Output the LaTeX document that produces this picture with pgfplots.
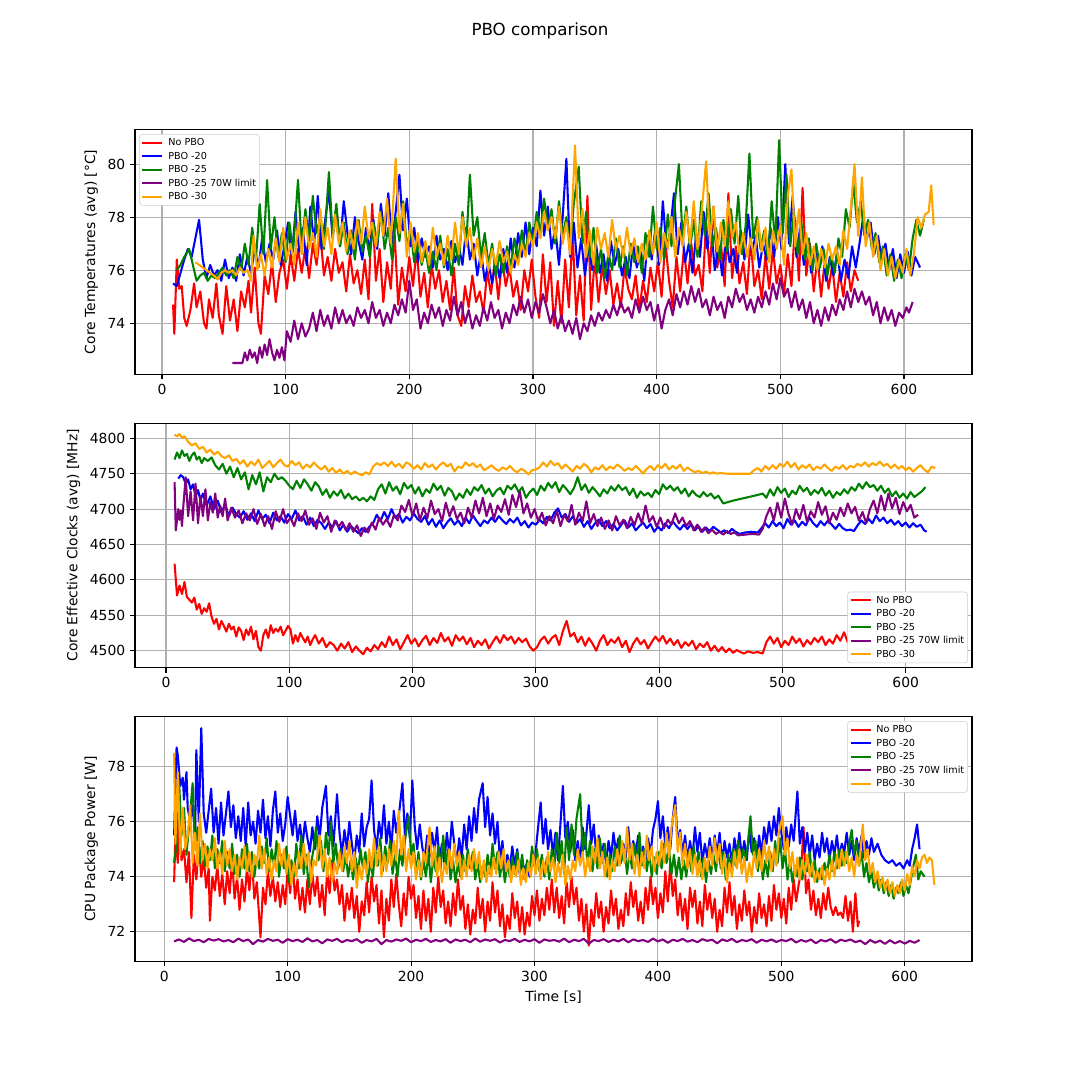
\documentclass[border=0pt]{standalone}
\usepackage{fontspec}
\setmainfont{DejaVu Sans}
\usepackage{pgfplots}
\pgfplotsset{compat=1.18}
\definecolor{mplorange}{rgb}{1,0.647,0}
\definecolor{mplgreen}{rgb}{0,0.5,0}
\definecolor{mplpurple}{rgb}{0.5,0,0.5}
\pgfplotsset{
  panel/.style={
    scale only axis, width=602.64pt, height=176.1pt,
    anchor=south west,
    axis line style={line width=0.8pt},
    tick pos=left, tick align=outside,
    major tick length=3.5pt,
    every tick/.style={black, line width=0.8pt},
    grid=major,
    major grid style={line width=0.8pt, color=black!31},
    xtick={0,100,...,600},
    /pgf/number format/assume math mode=true,
    /pgf/number format/1000 sep={},
    tick label style={font=\fontsize{10}{12}\selectfont},
    label style={font=\fontsize{10}{12}\selectfont},
    every axis plot/.append style={line width=1.5pt, line join=round, no markers},
    legend cell align=left,
    legend image code/.code={\draw[##1] (0pt,0pt) -- (14.4pt,0pt);},
    legend style={font=\fontsize{6.94}{8}\selectfont, draw=black!20, rounded corners=2pt,
      fill=white, inner xsep=1.4pt, inner ysep=1.2pt,
      nodes={inner xsep=1pt, inner ysep=1.36pt, text height=5.4pt, text depth=1.6pt, anchor=west},
      /tikz/every odd column/.append style={column sep=2.5pt}},
  }
}
\begin{document}
\begin{tikzpicture}
\path[use as bounding box] (0,0) rectangle (777.6pt,777.6pt);
\node[anchor=north, inner sep=0pt, font=\fontsize{12}{14}\selectfont] at (388.8pt,761pt) {PBO comparison};

% ---------------- Panel 1 ----------------
\begin{axis}[panel, at={(97.2pt,508.18pt)},
  xmin=-21.8, xmax=655, ymin=72.08, ymax=81.3, ytick={74,76,78,80},
  ylabel={Core Temperatures (avg) [°C]},
  legend style={at={(0,1)}, anchor=north west, xshift=3.0pt, yshift=-3.3pt}]
\addplot[red] coordinates {(9,74.7)(10,73.6)(12,76.4)(14,75.3)(16,75.4)(18,74.2)(20,73.9)(23,74.5)(26,75.5)(28,74.6)(31,75.2)(34,74.0)(36,73.8)(38,74.9)(41,74.2)(44,75.5)(46,74.3)(49,73.6)(52,75.4)(55,74.1)(58,74.9)(61,73.7)(64,75.2)(67,74.6)(70,75.6)(72,74.4)(75,76.1)(78,74.0)(80,73.6)(83,75.8)(86,75.1)(89,76.3)(92,74.8)(95,75.9)(98,76.4)(101,75.3)(104,76.6)(107,75.6)(110,76.8)(113,75.9)(116,76.9)(119,75.7)(122,77.0)(125,76.2)(128,77.4)(131,75.8)(134,76.5)(137,75.6)(140,76.8)(143,75.9)(146,76.3)(149,75.2)(152,76.6)(155,75.5)(158,76.0)(161,75.1)(164,76.4)(167,74.9)(170,78.5)(173,75.6)(176,76.8)(179,74.8)(182,76.3)(185,75.3)(188,77.5)(191,74.7)(194,76.1)(197,75.2)(200,76.5)(203,75.4)(206,76.8)(209,75.0)(212,75.9)(215,74.6)(218,76.2)(221,75.3)(224,76.0)(227,74.8)(230,75.6)(233,74.5)(236,76.1)(239,74.3)(242,73.9)(245,75.4)(248,74.6)(251,75.8)(254,74.8)(257,75.2)(260,74.4)(263,76.0)(266,75.1)(269,76.3)(272,74.9)(275,76.4)(278,75.4)(281,76.1)(284,75.0)(287,75.6)(290,74.5)(293,76.0)(296,75.2)(299,76.4)(302,75.0)(305,74.2)(308,76.6)(311,74.8)(314,76.3)(317,73.9)(320,75.6)(323,74.0)(326,76.4)(329,74.6)(332,77.4)(335,74.3)(338,75.8)(341,74.1)(344,78.8)(347,74.5)(350,76.5)(353,74.8)(356,76.2)(359,75.1)(362,76.0)(365,74.7)(368,75.5)(371,74.6)(374,76.1)(377,75.3)(380,74.9)(383,75.8)(386,74.5)(389,75.6)(392,74.8)(395,76.1)(398,75.2)(401,76.3)(404,75.0)(407,77.1)(410,75.6)(413,74.6)(416,76.5)(419,75.2)(422,76.8)(425,75.5)(428,77.0)(431,75.8)(434,76.2)(437,75.2)(440,77.8)(443,75.9)(446,78.4)(449,76.1)(452,77.0)(455,75.4)(458,78.9)(461,75.7)(464,76.9)(467,75.5)(470,76.3)(473,75.1)(476,77.2)(479,75.4)(482,76.0)(485,74.9)(488,76.6)(491,75.3)(494,76.8)(497,75.5)(500,76.2)(503,75.1)(506,76.6)(509,75.4)(512,77.9)(515,75.6)(518,79.1)(521,75.8)(524,77.0)(527,75.2)(530,76.5)(533,75.0)(536,76.4)(539,75.3)(542,76.2)(545,74.8)(548,75.9)(551,75.0)(554,76.3)(557,75.2)(560,76.0)(563,75.6)};
\addlegendentry{No PBO}
\addplot[blue] coordinates {(9,75.5)(12,75.4)(15,75.9)(18,76.4)(21,76.8)(24,76.5)(27,77.2)(30,77.9)(33,76.4)(36,75.7)(39,76.2)(42,75.8)(45,76.0)(48,75.6)(51,76.4)(54,75.7)(57,76.1)(60,75.6)(63,76.6)(66,75.8)(69,76.5)(72,75.9)(75,76.8)(78,76.1)(81,77.2)(84,76.3)(87,77.0)(90,76.4)(93,77.5)(96,76.2)(99,76.9)(102,77.8)(105,76.5)(108,78.2)(111,76.7)(114,77.6)(117,76.2)(120,78.4)(123,77.0)(126,78.8)(129,76.8)(132,77.9)(135,79.0)(138,77.2)(141,78.3)(144,76.9)(147,78.6)(150,77.4)(153,76.6)(156,78.0)(159,77.1)(162,76.4)(165,77.6)(168,76.7)(171,77.9)(174,76.8)(177,78.5)(180,77.3)(183,78.9)(186,77.0)(189,78.2)(192,79.6)(195,77.5)(198,78.7)(201,76.9)(204,77.6)(207,76.3)(210,77.2)(213,76.5)(216,76.9)(219,76.1)(222,77.3)(225,76.4)(228,76.8)(231,76.0)(234,77.1)(237,76.3)(240,76.9)(243,76.2)(246,77.6)(249,76.4)(252,77.0)(255,75.8)(258,76.7)(261,75.6)(264,76.3)(267,75.5)(270,76.4)(273,75.7)(276,76.8)(279,75.9)(282,77.2)(285,76.1)(288,77.4)(291,76.5)(294,77.8)(297,76.6)(300,77.6)(303,76.9)(306,79.0)(309,77.3)(312,78.4)(315,76.8)(318,77.6)(321,76.2)(324,78.0)(327,80.2)(330,76.5)(333,77.8)(336,76.1)(339,77.2)(342,75.8)(345,76.9)(348,76.0)(351,77.0)(354,75.9)(357,76.6)(360,75.6)(363,77.1)(366,76.2)(369,76.8)(372,75.8)(375,76.5)(378,75.7)(381,77.0)(384,76.1)(387,76.7)(390,75.6)(393,77.3)(396,76.4)(399,77.6)(402,76.2)(405,78.6)(408,76.8)(411,77.5)(414,78.9)(417,76.6)(420,77.8)(423,76.3)(426,77.0)(429,75.9)(432,77.4)(435,76.5)(438,78.2)(441,76.8)(444,77.7)(447,76.0)(450,76.9)(453,75.8)(456,77.2)(459,76.3)(462,76.8)(465,75.9)(468,77.5)(471,76.4)(474,78.1)(477,76.7)(480,77.3)(483,76.1)(486,77.0)(489,76.4)(492,77.6)(495,76.5)(498,78.0)(501,76.8)(504,80.0)(507,77.0)(510,78.8)(513,76.5)(516,77.6)(519,76.2)(522,77.0)(525,75.9)(528,76.8)(531,76.0)(534,76.9)(537,75.6)(540,76.5)(543,75.8)(546,76.7)(549,75.6)(552,76.4)(555,75.7)(558,76.9)(561,76.1)(564,77.0)(567,78.0)(570,77.2)(573,77.8)(576,76.6)(579,77.3)(582,76.4)(585,77.0)(588,76.0)(591,76.8)(594,75.7)(597,76.6)(600,75.9)(603,76.7)(606,75.8)(609,76.5)(613,76.1)};
\addlegendentry{PBO -20}
\addplot[mplgreen] coordinates {(12,76.0)(15,76.2)(18,76.5)(22,76.8)(25,76.2)(28,75.6)(31,75.8)(34,75.9)(37,75.6)(40,75.8)(43,75.7)(46,75.9)(49,76.1)(52,75.8)(55,76.0)(58,75.7)(61,76.5)(64,76.0)(67,77.0)(70,76.2)(73,77.6)(76,76.4)(79,78.5)(82,76.6)(85,79.4)(88,76.8)(91,78.0)(94,76.5)(97,77.4)(100,76.3)(103,77.8)(106,76.7)(110,79.4)(113,76.9)(116,78.3)(119,77.1)(122,78.8)(125,77.4)(128,78.0)(131,76.8)(135,79.7)(138,77.3)(141,78.5)(144,76.9)(147,77.8)(150,76.6)(153,77.5)(156,76.4)(159,77.9)(162,76.7)(165,77.3)(168,76.5)(171,77.8)(174,77.0)(177,78.2)(180,76.8)(183,77.6)(186,76.4)(189,78.0)(192,77.1)(195,78.6)(198,76.9)(201,77.5)(204,76.3)(207,77.1)(210,76.2)(213,76.8)(216,75.9)(219,76.7)(222,76.0)(225,77.3)(228,76.1)(231,76.8)(234,75.8)(237,77.0)(240,76.2)(243,78.2)(246,76.9)(249,79.6)(252,77.3)(255,78.0)(258,76.5)(261,77.4)(264,76.2)(267,77.0)(270,75.8)(273,76.6)(276,75.9)(279,76.9)(282,76.1)(285,77.2)(288,76.4)(291,77.5)(294,76.6)(297,77.8)(300,77.0)(303,78.2)(306,77.4)(309,78.7)(312,77.6)(315,78.3)(318,77.0)(321,78.6)(324,77.3)(327,78.0)(330,76.8)(333,78.5)(337,79.9)(340,77.0)(343,78.2)(346,76.5)(349,77.6)(352,75.9)(355,76.8)(358,75.7)(361,76.6)(364,76.0)(367,77.2)(370,76.1)(373,76.9)(376,75.8)(379,77.0)(382,76.3)(385,76.9)(388,75.9)(391,77.4)(394,76.5)(397,78.4)(400,76.8)(403,77.6)(406,76.4)(409,78.1)(412,76.9)(415,78.7)(418,80.0)(421,77.2)(424,78.4)(427,76.8)(430,77.9)(433,76.5)(436,78.6)(439,77.3)(442,78.9)(445,76.9)(448,77.6)(451,76.4)(454,77.9)(457,76.7)(460,78.3)(463,77.0)(466,78.8)(469,76.6)(472,77.7)(475,80.4)(478,77.2)(481,78.0)(484,76.8)(487,77.5)(490,76.4)(493,78.6)(496,77.0)(499,80.9)(502,77.4)(505,79.6)(508,76.9)(511,78.2)(514,76.6)(517,77.8)(520,76.4)(523,77.2)(526,76.0)(529,77.0)(532,76.1)(535,76.8)(538,75.8)(541,76.6)(544,75.9)(547,77.2)(550,76.5)(553,78.3)(556,77.6)(559,79.3)(562,77.8)(565,78.6)(568,77.3)(571,77.9)(574,76.8)(577,77.4)(580,76.3)(583,76.9)(586,75.8)(589,76.6)(592,75.6)(595,76.4)(598,75.7)(601,76.6)(604,76.0)(607,77.2)(610,77.9)(613,77.3)(616,77.9)};
\addlegendentry{PBO -25}
\addplot[mplpurple] coordinates {(57,72.5)(60,72.5)(63,72.5)(65,72.5)(67,72.9)(69,72.6)(71,73.0)(73,72.7)(75,72.9)(77,72.5)(79,73.1)(81,72.7)(83,73.2)(85,72.8)(87,73.4)(89,72.9)(91,72.6)(93,73.0)(95,72.7)(97,73.1)(99,72.6)(101,73.7)(104,73.3)(107,74.1)(110,73.4)(113,74.0)(116,73.5)(119,73.8)(122,74.4)(125,73.7)(128,74.5)(131,73.9)(134,74.3)(137,73.8)(140,74.6)(143,74.0)(146,74.5)(149,74.0)(152,74.3)(155,73.9)(158,74.6)(161,74.2)(164,74.5)(167,74.0)(170,74.8)(173,74.2)(176,74.5)(179,73.9)(182,74.4)(185,74.0)(188,74.7)(191,74.3)(194,74.9)(197,74.4)(200,75.6)(203,74.5)(206,74.9)(209,73.8)(212,74.4)(215,74.0)(218,74.7)(221,74.2)(224,74.6)(227,73.9)(230,74.5)(233,74.1)(236,75.0)(239,74.3)(242,74.8)(245,74.0)(248,74.5)(251,73.8)(254,74.3)(257,73.9)(260,74.6)(263,74.1)(266,74.8)(269,74.2)(272,74.5)(275,73.8)(278,74.4)(281,74.0)(284,74.7)(287,74.3)(290,75.0)(293,74.4)(296,74.9)(299,74.2)(302,74.8)(305,74.4)(308,75.1)(311,74.6)(314,74.0)(317,74.5)(320,73.8)(323,74.3)(326,73.7)(329,74.1)(332,73.6)(335,74.2)(338,73.4)(341,74.0)(344,73.7)(347,74.3)(350,73.9)(353,74.4)(356,74.1)(359,74.5)(362,74.2)(365,74.7)(368,74.3)(371,74.8)(374,74.4)(377,74.6)(380,74.2)(383,74.9)(386,74.4)(389,75.0)(392,74.5)(395,74.8)(398,74.1)(401,74.7)(404,73.8)(407,74.5)(410,74.9)(413,74.3)(416,75.1)(419,74.6)(422,75.2)(425,74.7)(428,75.4)(431,74.8)(434,75.3)(437,74.6)(440,74.9)(443,74.3)(446,75.0)(449,74.5)(452,74.8)(455,74.2)(458,75.0)(461,74.6)(464,75.3)(467,74.8)(470,75.1)(473,74.5)(476,74.9)(479,74.4)(482,75.0)(485,74.6)(488,75.2)(491,74.7)(494,75.5)(497,74.9)(500,75.7)(503,75.0)(506,75.3)(509,74.6)(512,75.2)(515,74.5)(518,74.9)(521,74.2)(524,74.8)(527,74.0)(530,74.5)(533,73.9)(536,74.6)(539,74.1)(542,74.7)(545,74.3)(548,74.9)(551,74.5)(554,75.2)(557,74.6)(560,75.3)(563,74.8)(566,75.2)(569,74.7)(572,75.0)(575,74.3)(578,74.8)(581,74.0)(584,74.6)(587,74.1)(590,74.5)(593,73.9)(596,74.4)(599,74.2)(602,74.6)(604,74.4)(607,74.8)};
\addlegendentry{PBO -25 70W limit}
\addplot[mplorange] coordinates {(27,76.3)(30,76.2)(33,76.1)(36,76.0)(39,75.9)(42,75.8)(45,75.65)(48,75.9)(51,76.0)(54,75.9)(57,76.0)(60,75.8)(63,76.1)(66,75.9)(69,76.0)(72,75.6)(74,77.3)(77,76.0)(80,76.6)(83,75.8)(86,76.8)(89,76.1)(92,77.2)(95,76.3)(98,77.6)(101,76.4)(104,77.0)(107,76.2)(110,77.8)(113,76.6)(116,78.0)(119,76.8)(122,77.4)(125,76.5)(128,78.3)(131,76.9)(134,77.6)(137,76.6)(140,78.1)(143,77.0)(146,77.8)(149,76.7)(152,77.5)(155,76.8)(158,77.9)(161,77.0)(164,78.4)(167,77.2)(170,77.8)(173,76.9)(176,78.2)(179,77.3)(182,78.7)(185,77.0)(189,80.2)(192,77.4)(195,78.5)(198,76.5)(201,77.8)(204,76.7)(207,77.4)(210,76.3)(213,77.1)(216,76.2)(219,77.6)(222,76.5)(225,77.0)(228,76.2)(231,77.3)(234,76.4)(237,77.8)(240,76.6)(243,78.0)(246,76.9)(249,77.6)(252,76.4)(255,77.2)(258,76.1)(261,76.9)(264,76.0)(267,76.8)(270,76.2)(273,77.1)(276,76.3)(279,76.7)(282,75.9)(285,76.6)(288,76.2)(291,77.0)(294,76.5)(297,77.4)(300,76.9)(303,77.8)(306,77.2)(309,78.2)(312,77.5)(315,78.0)(318,77.2)(321,78.4)(324,77.0)(327,77.8)(330,76.6)(334,80.7)(337,77.2)(340,78.3)(343,76.5)(346,77.5)(349,76.2)(352,77.6)(355,76.8)(358,77.4)(361,76.5)(364,77.9)(367,76.8)(370,77.3)(373,76.5)(376,77.6)(379,76.6)(382,77.2)(385,76.3)(388,77.0)(391,76.4)(394,77.5)(397,76.6)(400,77.8)(403,76.3)(406,77.4)(409,76.8)(412,78.0)(415,76.5)(418,77.6)(421,76.9)(424,78.2)(427,77.0)(430,78.6)(433,76.8)(436,78.0)(440,80.1)(443,77.1)(446,78.4)(449,76.7)(452,77.8)(455,76.9)(458,78.6)(461,77.2)(464,77.8)(467,76.6)(470,77.4)(473,76.5)(476,77.2)(479,76.4)(482,77.9)(485,76.7)(488,77.6)(491,76.3)(494,77.5)(497,76.8)(500,77.7)(503,76.2)(506,78.8)(509,79.8)(512,76.9)(515,78.3)(518,76.6)(521,77.4)(524,76.2)(527,76.9)(530,76.0)(533,76.8)(536,76.1)(539,77.0)(542,76.4)(545,76.9)(548,76.2)(551,77.5)(554,76.8)(557,78.3)(560,80.0)(563,77.3)(566,79.5)(569,76.9)(572,77.8)(575,76.5)(578,77.3)(581,76.0)(584,76.8)(587,75.8)(590,76.5)(593,75.7)(596,76.4)(599,75.9)(602,76.8)(605,75.8)(608,76.6)(611,78.0)(614,77.6)(617,78.1)(620,78.2)(622,79.2)(624,77.7)};
\addlegendentry{PBO -30}
\end{axis}

% ---------------- Panel 2 ----------------
\begin{axis}[panel, at={(97.2pt,296.86pt)},
  xmin=-25.1, xmax=653.8, ymin=4476, ymax=4821.5, ytick={4500,4550,...,4800},
  ylabel={Core Effective Clocks (avg) [MHz]},
  legend style={at={(1,0)}, anchor=south east, xshift=-3.0pt, yshift=3.3pt}]
\addplot[red] coordinates {(7,4623)(9,4578)(11,4592)(13,4580)(15,4597)(17,4576)(19,4572)(21,4568)(23,4575)(25,4558)(27,4566)(29,4552)(31,4560)(33,4555)(35,4567)(37,4548)(39,4538)(41,4545)(43,4530)(45,4542)(47,4535)(49,4527)(51,4538)(53,4530)(55,4534)(57,4520)(59,4533)(61,4528)(63,4515)(65,4530)(67,4522)(69,4534)(71,4516)(73,4528)(75,4505)(77,4500)(79,4522)(81,4530)(83,4518)(85,4536)(87,4525)(89,4531)(91,4527)(93,4534)(95,4522)(97,4528)(99,4535)(101,4530)(103,4510)(105,4522)(107,4513)(109,4525)(111,4518)(113,4512)(115,4520)(117,4508)(119,4516)(121,4522)(124,4510)(127,4518)(130,4505)(133,4512)(136,4508)(139,4500)(142,4510)(145,4503)(148,4512)(151,4498)(154,4506)(157,4500)(160,4495)(163,4504)(166,4499)(169,4508)(172,4502)(175,4512)(178,4505)(181,4520)(184,4508)(187,4516)(190,4502)(193,4512)(196,4522)(199,4510)(202,4517)(205,4506)(208,4515)(211,4521)(214,4508)(217,4518)(220,4511)(223,4525)(226,4513)(229,4519)(232,4507)(235,4522)(238,4514)(241,4520)(244,4509)(247,4518)(250,4505)(253,4514)(256,4508)(259,4516)(262,4503)(265,4512)(268,4520)(271,4511)(274,4522)(277,4515)(280,4520)(283,4510)(286,4518)(289,4512)(292,4517)(295,4506)(298,4500)(301,4505)(304,4515)(307,4520)(310,4510)(313,4518)(316,4522)(319,4508)(322,4528)(325,4542)(328,4520)(331,4525)(334,4512)(337,4520)(340,4507)(343,4518)(346,4510)(349,4500)(352,4514)(355,4522)(358,4508)(361,4516)(364,4511)(367,4519)(370,4505)(373,4514)(376,4498)(379,4510)(382,4518)(385,4509)(388,4515)(391,4503)(394,4512)(397,4520)(400,4513)(403,4521)(406,4510)(409,4517)(412,4508)(415,4515)(418,4504)(421,4512)(424,4507)(427,4514)(430,4502)(433,4510)(436,4505)(439,4512)(442,4500)(445,4507)(448,4499)(451,4505)(454,4498)(457,4503)(460,4497)(463,4501)(466,4498)(469,4496)(472,4499)(476,4497)(480,4498)(484,4496)(487,4512)(490,4520)(493,4510)(496,4518)(499,4505)(502,4514)(505,4508)(508,4520)(511,4511)(514,4517)(517,4506)(520,4515)(523,4509)(526,4518)(529,4512)(532,4520)(535,4508)(538,4516)(541,4510)(544,4522)(547,4514)(550,4526)(553,4512)(556,4520)(558,4500)(560,4530)(562,4505)(563,4515)};
\addlegendentry{No PBO}
\addplot[blue] coordinates {(10,4743)(12,4748)(14,4745)(16,4736)(18,4742)(20,4728)(22,4735)(24,4719)(26,4727)(28,4713)(30,4722)(33,4705)(36,4718)(39,4700)(42,4712)(45,4695)(48,4707)(51,4690)(54,4702)(57,4693)(60,4688)(63,4697)(66,4685)(69,4694)(72,4683)(75,4698)(78,4686)(81,4692)(84,4680)(87,4695)(90,4684)(93,4690)(96,4681)(99,4693)(102,4686)(105,4698)(108,4684)(111,4690)(114,4678)(117,4688)(120,4676)(123,4685)(126,4680)(129,4672)(132,4681)(135,4674)(138,4683)(141,4670)(144,4678)(147,4668)(150,4676)(153,4671)(156,4666)(159,4673)(162,4668)(165,4675)(168,4680)(171,4692)(174,4683)(177,4696)(180,4686)(183,4700)(186,4688)(189,4693)(192,4681)(195,4689)(198,4684)(201,4694)(204,4686)(207,4682)(210,4690)(213,4678)(216,4686)(219,4675)(222,4684)(225,4673)(228,4681)(231,4687)(234,4678)(237,4684)(240,4676)(243,4688)(246,4680)(249,4691)(252,4683)(255,4676)(258,4684)(261,4680)(264,4688)(267,4682)(270,4690)(273,4684)(276,4679)(279,4686)(282,4681)(285,4688)(288,4677)(291,4683)(294,4674)(297,4681)(300,4678)(303,4685)(306,4680)(309,4689)(312,4684)(315,4695)(318,4701)(321,4688)(324,4693)(327,4682)(330,4690)(333,4680)(336,4686)(339,4675)(342,4683)(345,4672)(348,4680)(351,4685)(354,4676)(357,4683)(360,4673)(363,4679)(366,4670)(369,4677)(372,4684)(375,4674)(378,4680)(381,4670)(384,4676)(387,4681)(390,4673)(393,4679)(396,4668)(399,4675)(402,4670)(405,4680)(408,4673)(411,4683)(414,4676)(417,4671)(420,4678)(423,4672)(426,4679)(429,4670)(432,4676)(435,4668)(438,4674)(441,4669)(444,4675)(447,4671)(450,4667)(453,4670)(456,4666)(459,4672)(462,4668)(465,4665)(470,4667)(475,4668)(480,4667)(483,4673)(486,4680)(489,4674)(492,4683)(495,4676)(498,4681)(501,4673)(504,4686)(507,4678)(510,4684)(513,4675)(516,4682)(519,4677)(522,4688)(525,4680)(528,4675)(531,4683)(534,4677)(537,4684)(540,4678)(543,4672)(546,4679)(549,4673)(552,4670)(555,4671)(558,4669)(561,4677)(564,4684)(567,4679)(570,4686)(573,4680)(576,4691)(579,4683)(582,4688)(585,4680)(588,4685)(591,4678)(594,4683)(597,4676)(600,4681)(603,4674)(606,4680)(609,4675)(612,4678)(615,4670)(617,4668)};
\addlegendentry{PBO -20}
\addplot[mplgreen] coordinates {(7,4770)(9,4780)(11,4772)(13,4783)(15,4775)(17,4778)(19,4768)(21,4776)(23,4780)(25,4770)(27,4774)(29,4765)(31,4772)(34,4768)(37,4773)(40,4762)(43,4756)(46,4764)(49,4750)(52,4760)(55,4745)(58,4758)(61,4742)(64,4752)(67,4728)(70,4748)(73,4735)(76,4752)(79,4725)(82,4745)(85,4738)(88,4750)(91,4742)(94,4745)(97,4740)(100,4733)(103,4728)(106,4740)(109,4730)(112,4742)(115,4735)(118,4726)(121,4738)(124,4732)(127,4720)(130,4728)(133,4716)(136,4725)(139,4719)(142,4727)(145,4715)(148,4722)(151,4714)(154,4718)(157,4712)(160,4716)(163,4711)(166,4718)(169,4713)(172,4728)(175,4735)(178,4722)(181,4738)(184,4726)(187,4732)(190,4721)(193,4737)(196,4729)(199,4734)(202,4722)(205,4731)(208,4718)(211,4728)(214,4723)(217,4736)(220,4727)(223,4733)(226,4719)(229,4730)(232,4725)(235,4713)(238,4722)(241,4716)(244,4728)(247,4720)(250,4731)(253,4726)(256,4734)(259,4722)(262,4729)(265,4718)(268,4726)(271,4730)(274,4721)(277,4733)(280,4728)(283,4735)(286,4724)(289,4731)(292,4716)(295,4724)(298,4729)(301,4720)(304,4733)(307,4726)(310,4737)(313,4730)(316,4738)(319,4724)(322,4734)(325,4728)(328,4721)(331,4730)(334,4745)(337,4727)(340,4735)(343,4723)(346,4731)(349,4725)(352,4718)(355,4728)(358,4722)(361,4732)(364,4726)(367,4734)(370,4727)(373,4731)(376,4720)(379,4729)(382,4716)(385,4725)(388,4719)(391,4723)(394,4717)(397,4727)(400,4721)(403,4735)(406,4728)(409,4733)(412,4726)(415,4731)(418,4722)(421,4729)(424,4718)(427,4726)(430,4720)(433,4717)(436,4724)(439,4718)(442,4722)(445,4715)(448,4719)(452,4708)(456,4710)(460,4712)(465,4714)(470,4716)(475,4718)(480,4720)(484,4722)(487,4716)(490,4728)(493,4719)(496,4731)(499,4723)(502,4729)(505,4717)(508,4726)(511,4721)(514,4733)(517,4725)(520,4730)(523,4720)(526,4727)(529,4722)(532,4730)(535,4719)(538,4726)(541,4716)(544,4724)(547,4720)(550,4728)(553,4722)(556,4731)(559,4726)(562,4736)(565,4729)(568,4738)(571,4731)(574,4734)(577,4726)(580,4733)(583,4723)(586,4729)(589,4718)(592,4725)(595,4716)(598,4722)(601,4715)(604,4724)(607,4717)(610,4721)(613,4725)(616,4731)};
\addlegendentry{PBO -25}
\addplot[mplpurple] coordinates {(7,4738)(8,4670)(10,4700)(11,4685)(12,4698)(13,4676)(14,4702)(16,4745)(18,4690)(20,4725)(22,4684)(24,4736)(26,4680)(28,4718)(30,4690)(32,4728)(34,4684)(36,4710)(38,4695)(40,4722)(42,4688)(44,4705)(46,4690)(48,4715)(50,4684)(53,4702)(56,4688)(59,4698)(62,4680)(65,4694)(68,4684)(71,4700)(74,4679)(77,4693)(80,4676)(83,4690)(86,4672)(89,4697)(92,4682)(95,4700)(98,4680)(101,4688)(104,4676)(107,4694)(110,4683)(113,4698)(116,4678)(119,4687)(122,4672)(125,4695)(128,4681)(131,4690)(134,4668)(137,4684)(140,4675)(143,4682)(146,4670)(149,4680)(152,4668)(155,4677)(158,4662)(161,4674)(164,4667)(167,4681)(170,4671)(173,4688)(176,4678)(179,4686)(182,4675)(185,4692)(188,4684)(191,4705)(194,4696)(197,4713)(200,4690)(203,4708)(206,4684)(209,4702)(212,4687)(215,4712)(218,4693)(221,4700)(224,4683)(227,4709)(230,4690)(233,4704)(236,4686)(239,4695)(242,4680)(245,4702)(248,4688)(251,4712)(254,4694)(257,4716)(260,4690)(263,4708)(266,4686)(269,4705)(272,4696)(275,4714)(278,4692)(281,4720)(284,4703)(287,4725)(290,4694)(293,4708)(296,4688)(299,4700)(302,4683)(305,4695)(308,4677)(311,4690)(314,4680)(317,4698)(320,4676)(323,4692)(326,4683)(329,4706)(332,4678)(335,4695)(338,4683)(341,4711)(344,4680)(347,4693)(350,4676)(353,4688)(356,4672)(359,4684)(362,4670)(365,4690)(368,4677)(371,4685)(374,4673)(377,4689)(380,4677)(383,4694)(386,4680)(389,4705)(392,4682)(395,4690)(398,4675)(401,4688)(404,4673)(407,4685)(410,4678)(413,4694)(416,4680)(419,4688)(422,4676)(425,4683)(428,4670)(431,4678)(434,4668)(437,4674)(440,4666)(443,4671)(446,4665)(449,4668)(452,4664)(455,4669)(458,4665)(461,4667)(464,4663)(470,4664)(476,4665)(481,4664)(484,4672)(487,4690)(490,4702)(493,4684)(496,4709)(499,4688)(502,4715)(505,4693)(508,4678)(511,4700)(514,4686)(517,4706)(520,4682)(523,4697)(526,4688)(529,4710)(532,4692)(535,4704)(538,4680)(541,4695)(544,4685)(547,4702)(550,4690)(553,4708)(556,4694)(559,4703)(562,4684)(565,4696)(568,4680)(571,4700)(574,4712)(577,4694)(580,4719)(583,4698)(586,4722)(589,4701)(592,4716)(595,4693)(598,4710)(601,4697)(604,4706)(607,4688)(610,4692)};
\addlegendentry{PBO -25 70W limit}
\addplot[mplorange] coordinates {(7,4805)(9,4803)(11,4806)(13,4801)(15,4803)(18,4795)(21,4790)(24,4793)(27,4785)(30,4788)(33,4780)(36,4784)(39,4777)(42,4781)(45,4775)(48,4772)(51,4776)(54,4768)(57,4771)(60,4764)(63,4769)(66,4760)(69,4767)(72,4762)(75,4770)(78,4758)(81,4763)(84,4768)(87,4759)(90,4765)(93,4770)(96,4762)(99,4760)(102,4768)(105,4762)(108,4766)(111,4757)(114,4763)(117,4759)(120,4766)(123,4760)(126,4756)(129,4761)(132,4753)(135,4758)(138,4751)(141,4756)(144,4750)(147,4754)(150,4749)(153,4753)(156,4750)(159,4748)(162,4752)(165,4749)(168,4760)(171,4765)(174,4762)(177,4766)(180,4761)(183,4767)(186,4760)(189,4764)(192,4758)(195,4766)(198,4763)(201,4757)(204,4762)(207,4756)(210,4765)(213,4759)(216,4763)(219,4756)(222,4762)(225,4766)(228,4760)(231,4764)(234,4753)(237,4760)(240,4758)(243,4766)(246,4761)(249,4765)(252,4759)(255,4763)(258,4755)(261,4758)(264,4762)(267,4757)(270,4754)(273,4759)(276,4756)(279,4761)(282,4755)(285,4752)(288,4757)(291,4754)(294,4749)(297,4755)(300,4756)(303,4759)(306,4766)(309,4760)(312,4768)(315,4762)(318,4765)(321,4757)(324,4763)(327,4758)(330,4753)(333,4761)(336,4757)(339,4764)(342,4760)(345,4752)(348,4759)(351,4756)(354,4762)(357,4755)(360,4760)(363,4757)(366,4763)(369,4759)(372,4754)(375,4758)(378,4755)(381,4761)(384,4756)(387,4750)(390,4757)(393,4761)(396,4755)(399,4762)(402,4758)(405,4764)(408,4756)(411,4761)(414,4757)(417,4763)(420,4754)(423,4759)(426,4755)(429,4752)(432,4754)(435,4751)(438,4753)(441,4750)(444,4752)(447,4750)(450,4751)(455,4750)(474,4750)(477,4755)(480,4758)(483,4753)(486,4761)(489,4756)(492,4762)(495,4757)(498,4764)(501,4760)(504,4767)(507,4759)(510,4765)(513,4756)(516,4762)(519,4758)(522,4763)(525,4755)(528,4760)(531,4757)(534,4763)(537,4758)(540,4754)(543,4760)(546,4757)(549,4762)(552,4756)(555,4761)(558,4759)(561,4764)(564,4761)(567,4766)(570,4760)(573,4765)(576,4762)(579,4767)(582,4761)(585,4764)(588,4758)(591,4763)(594,4757)(597,4761)(600,4755)(603,4759)(606,4753)(609,4758)(612,4762)(615,4756)(618,4752)(621,4760)(624,4758)};
\addlegendentry{PBO -30}
\end{axis}

% ---------------- Panel 3 ----------------
\begin{axis}[panel, at={(97.2pt,85.54pt)},
  xmin=-23.7, xmax=654.5, ymin=70.93, ymax=79.82, ytick={72,74,76,78},
  ylabel={CPU Package Power [W]}, xlabel={Time [s]},
  legend style={at={(1,1)}, anchor=north east, xshift=-3.0pt, yshift=-3.3pt}]
\addplot[red] coordinates {(8,73.8)(9,75.5)(11,74.5)(12,76.0)(14,74.6)(16,75.0)(18,73.8)(20,74.9)(22,72.5)(24,74.8)(26,73.9)(28,75.2)(30,74.0)(32,74.7)(34,73.6)(36,74.3)(37,72.4)(39,74.0)(41,73.5)(43,74.4)(45,73.3)(47,74.1)(49,73.0)(51,74.2)(53,73.4)(55,74.6)(57,73.2)(59,74.0)(61,72.8)(63,73.9)(65,73.1)(67,74.3)(69,73.5)(71,74.7)(73,73.2)(75,73.8)(78,71.8)(80,73.6)(82,73.0)(84,74.2)(86,73.3)(88,74.0)(90,73.1)(92,73.8)(94,72.9)(96,73.7)(98,73.0)(100,74.3)(102,73.4)(104,74.5)(106,73.2)(108,73.9)(110,72.8)(112,73.6)(114,72.7)(116,73.9)(118,73.0)(120,74.1)(122,73.3)(124,74.0)(126,72.9)(128,73.7)(130,72.6)(132,74.2)(134,73.4)(136,74.6)(138,73.5)(140,73.9)(142,73.0)(144,73.7)(146,72.4)(148,73.4)(150,72.8)(152,73.6)(154,72.5)(156,73.3)(158,72.0)(160,73.1)(162,72.6)(164,73.8)(166,72.7)(168,74.0)(170,73.1)(172,73.7)(174,72.3)(176,73.5)(178,71.8)(180,73.2)(182,72.4)(184,73.9)(186,72.9)(188,74.1)(190,73.0)(192,72.2)(194,73.4)(196,72.6)(198,74.0)(200,73.2)(202,73.7)(204,72.5)(206,73.3)(208,72.1)(210,73.5)(212,72.4)(214,73.2)(216,72.0)(218,73.6)(220,72.7)(222,74.0)(224,72.9)(226,73.5)(228,72.3)(230,73.1)(232,72.2)(234,73.4)(236,72.6)(238,73.9)(240,72.8)(242,73.3)(244,72.1)(246,73.0)(248,71.9)(250,72.8)(252,72.3)(254,73.6)(256,72.5)(258,73.2)(260,72.0)(262,73.1)(264,72.4)(266,73.8)(268,72.7)(270,73.5)(272,72.2)(274,73.0)(276,71.8)(278,72.6)(280,72.1)(282,73.4)(284,72.5)(286,73.1)(288,72.0)(290,72.9)(292,71.9)(294,72.7)(296,72.2)(298,73.3)(300,72.6)(302,73.5)(304,72.4)(306,73.2)(308,72.6)(310,73.6)(312,72.8)(314,73.9)(316,72.7)(318,73.6)(320,72.5)(322,73.3)(324,72.3)(326,73.8)(328,72.9)(330,74.0)(332,73.0)(334,73.6)(336,72.4)(338,73.2)(340,72.0)(342,73.0)(344,71.5)(346,72.8)(348,72.2)(350,73.4)(352,72.5)(354,73.1)(356,72.0)(358,72.9)(360,72.3)(362,73.5)(364,72.6)(366,73.2)(368,72.1)(370,72.8)(372,72.2)(374,73.4)(376,72.6)(378,73.8)(380,72.9)(382,73.5)(384,72.4)(386,73.1)(388,72.3)(390,73.6)(392,72.8)(394,74.0)(396,73.0)(398,73.6)(400,72.5)(402,73.4)(404,72.7)(406,74.2)(408,73.1)(410,74.5)(412,73.3)(414,73.9)(416,72.6)(418,73.4)(420,72.4)(422,73.2)(424,72.1)(426,73.6)(428,72.9)(430,73.5)(432,72.3)(434,73.1)(436,72.2)(438,73.7)(440,72.8)(442,73.4)(444,72.5)(446,73.2)(448,72.0)(450,72.8)(452,72.2)(454,73.6)(456,72.7)(458,73.8)(460,72.6)(462,73.3)(464,72.1)(466,73.0)(468,72.4)(470,73.5)(472,72.6)(474,73.1)(476,72.0)(478,72.9)(480,72.3)(482,73.4)(484,72.5)(486,73.0)(488,72.2)(490,73.3)(492,72.4)(494,73.7)(496,72.8)(498,73.4)(500,72.5)(502,73.2)(504,72.3)(506,73.6)(508,72.8)(510,73.9)(512,73.1)(514,73.7)(516,74.2)(518,75.8)(520,73.4)(522,73.9)(524,72.8)(526,73.5)(528,72.6)(530,73.2)(532,72.5)(534,73.4)(536,72.8)(538,73.6)(540,72.9)(542,72.6)(544,72.9)(546,72.6)(548,72.7)(550,72.5)(552,73.3)(554,72.4)(556,73.1)(558,72.0)(560,73.4)(562,72.2)(563,72.4)};
\addlegendentry{No PBO}
\addplot[blue] coordinates {(8,75.5)(10,78.7)(11,78.4)(13,77.3)(15,77.6)(16,76.8)(18,77.8)(19,76.5)(21,76.0)(23,76.6)(25,75.5)(26,78.6)(28,76.0)(30,79.4)(32,76.3)(34,75.6)(36,76.4)(38,77.2)(40,75.6)(42,76.5)(44,75.2)(46,76.7)(48,75.5)(50,76.3)(52,77.1)(54,75.8)(56,76.6)(58,75.4)(60,76.2)(62,75.3)(64,76.5)(66,75.1)(68,76.7)(70,75.5)(72,76.0)(74,75.2)(76,76.4)(78,75.6)(80,76.8)(82,75.4)(84,76.2)(86,75.1)(88,76.4)(90,77.1)(92,75.6)(94,76.3)(96,75.3)(98,75.9)(100,76.9)(102,76.2)(104,75.5)(106,76.4)(108,75.3)(110,75.9)(112,75.1)(114,76.0)(116,75.4)(118,74.9)(120,75.8)(122,75.0)(124,76.2)(126,75.4)(128,76.5)(131,77.3)(133,75.5)(135,76.2)(137,75.1)(140,77.0)(142,75.6)(144,74.8)(146,75.7)(148,75.0)(150,76.0)(152,75.2)(154,74.6)(156,75.5)(158,74.9)(160,76.3)(162,75.1)(164,75.8)(166,76.1)(168,77.5)(170,75.7)(172,75.0)(174,76.0)(176,75.4)(178,76.6)(180,75.2)(182,76.0)(184,75.0)(186,76.4)(188,75.6)(190,76.2)(193,77.4)(195,75.5)(197,76.3)(199,75.4)(201,77.5)(203,75.8)(205,75.0)(207,75.9)(209,75.1)(211,74.6)(213,75.5)(215,74.7)(217,75.6)(219,74.9)(221,75.8)(223,74.6)(225,75.2)(227,74.5)(229,75.6)(231,74.8)(233,76.0)(235,75.2)(237,74.5)(239,75.4)(241,74.7)(243,75.9)(245,75.0)(247,76.2)(249,75.3)(251,76.5)(253,75.6)(255,76.8)(258,77.4)(260,75.8)(262,76.9)(264,75.5)(266,76.3)(268,75.2)(270,76.0)(272,74.6)(274,75.3)(276,74.2)(278,74.8)(280,74.3)(282,75.1)(284,74.4)(286,75.0)(288,74.1)(290,74.6)(292,74.2)(294,74.5)(296,74.0)(298,74.6)(300,74.4)(302,75.4)(305,76.7)(307,75.2)(309,76.1)(311,75.0)(313,75.7)(315,74.8)(317,75.6)(319,74.6)(321,75.9)(323,77.3)(325,75.4)(327,76.0)(329,74.9)(331,75.7)(333,74.6)(335,75.3)(337,74.5)(339,75.8)(341,75.0)(344,76.6)(346,75.2)(348,75.9)(350,74.8)(352,75.5)(354,74.6)(356,75.2)(358,74.5)(360,75.3)(362,74.7)(364,75.6)(366,74.9)(368,75.4)(370,74.5)(372,75.2)(374,74.7)(376,75.8)(378,74.6)(380,75.3)(382,74.8)(384,75.5)(386,74.4)(388,75.1)(390,74.6)(392,75.4)(394,74.8)(396,75.7)(398,76.1)(400,76.75)(402,75.4)(404,76.2)(406,75.1)(408,75.8)(410,75.0)(412,76.1)(414,76.9)(416,75.2)(418,75.7)(420,74.8)(422,75.5)(424,74.6)(426,75.3)(428,74.7)(430,75.8)(432,74.9)(434,75.6)(436,74.5)(438,75.2)(440,74.7)(442,75.4)(444,74.6)(446,75.5)(448,74.8)(450,75.6)(452,74.5)(454,75.3)(456,74.7)(458,75.2)(460,74.5)(462,75.4)(464,74.8)(466,75.6)(468,74.7)(470,75.3)(472,74.6)(474,75.7)(476,74.9)(478,75.4)(480,74.6)(482,75.5)(484,74.8)(486,75.8)(488,75.2)(490,76.0)(492,75.3)(494,76.2)(496,75.5)(498,76.5)(500,75.6)(502,75.0)(504,75.8)(506,75.1)(508,75.9)(510,75.3)(513,77.1)(515,75.2)(517,75.8)(519,74.9)(521,75.6)(523,74.8)(525,75.5)(527,74.6)(529,75.2)(531,74.7)(533,75.6)(535,74.9)(537,75.4)(539,74.6)(541,75.3)(543,74.8)(545,75.5)(547,74.7)(549,75.2)(551,74.9)(553,75.6)(555,74.8)(557,75.3)(559,74.6)(561,75.4)(563,74.9)(565,75.5)(567,74.7)(569,75.3)(571,74.8)(573,75.4)(575,74.9)(578,75.2)(581,74.8)(584,74.6)(587,74.5)(590,74.6)(593,74.4)(596,74.5)(599,74.3)(602,74.6)(604,74.4)(606,75.0)(608,75.4)(610,75.9)(612,75.0)};
\addlegendentry{PBO -20}
\addplot[mplgreen] coordinates {(8,74.5)(10,75.2)(12,77.5)(14,75.5)(16,76.5)(18,74.8)(20,75.8)(23,77.4)(25,75.0)(27,75.8)(29,74.5)(31,75.3)(33,74.4)(35,75.1)(37,74.6)(39,75.5)(41,74.3)(43,75.0)(45,74.5)(47,75.3)(49,74.2)(51,74.9)(53,74.3)(55,75.2)(57,74.1)(59,74.8)(61,74.0)(63,75.0)(65,74.3)(67,75.2)(69,74.2)(71,74.9)(73,74.0)(75,74.7)(77,74.3)(79,75.1)(81,74.5)(83,75.4)(85,74.2)(87,75.0)(89,74.4)(91,75.3)(93,74.0)(95,74.8)(97,74.3)(99,75.1)(101,73.8)(103,74.6)(105,74.0)(107,75.2)(109,74.3)(111,75.5)(113,74.1)(115,74.8)(117,73.6)(119,74.5)(121,75.0)(123,75.8)(125,74.6)(127,75.3)(129,74.2)(131,75.6)(133,74.8)(135,76.0)(137,74.5)(139,75.2)(141,74.3)(143,75.0)(145,74.2)(147,74.8)(149,74.0)(151,74.6)(153,73.9)(155,74.7)(157,74.1)(159,75.0)(161,74.3)(163,74.9)(165,73.8)(167,74.6)(169,74.0)(171,75.0)(173,74.4)(175,75.4)(177,74.2)(179,75.1)(181,74.5)(183,75.3)(185,74.1)(187,74.8)(189,74.0)(191,75.0)(193,74.4)(195,75.3)(198,76.2)(200,74.8)(202,75.2)(204,74.1)(206,74.9)(208,73.9)(210,74.6)(212,74.0)(214,74.9)(216,73.8)(218,74.7)(220,74.2)(222,75.1)(224,74.3)(226,75.5)(228,74.4)(230,75.0)(232,73.9)(234,74.6)(236,73.8)(238,74.5)(240,74.0)(242,74.8)(244,74.2)(246,75.0)(248,74.3)(250,74.9)(252,73.9)(254,74.5)(256,73.8)(258,74.4)(260,74.0)(262,74.8)(264,74.1)(266,75.2)(268,74.3)(270,74.9)(272,74.0)(274,74.6)(276,73.8)(278,74.5)(280,74.0)(282,74.7)(284,74.1)(286,74.9)(288,74.2)(290,74.8)(292,73.9)(294,74.6)(296,74.2)(298,75.1)(300,74.4)(302,75.0)(304,74.2)(306,74.8)(308,74.0)(310,74.7)(312,73.9)(314,75.0)(316,74.3)(318,75.6)(320,74.5)(322,75.3)(324,74.1)(326,75.8)(328,74.6)(330,75.9)(332,74.8)(334,76.1)(337,77.0)(339,74.9)(341,75.6)(343,74.4)(345,75.3)(347,74.2)(349,75.0)(351,74.3)(353,75.4)(355,74.5)(357,75.2)(359,74.0)(361,74.8)(363,74.2)(365,75.1)(367,74.4)(369,75.5)(371,74.6)(373,75.0)(375,74.1)(377,74.9)(379,74.3)(381,75.2)(383,74.5)(385,75.6)(387,74.4)(389,75.0)(391,74.2)(393,74.9)(395,74.0)(397,74.7)(399,74.1)(401,74.9)(403,74.3)(405,75.2)(407,74.5)(409,75.0)(411,74.1)(413,74.8)(415,74.0)(417,74.7)(419,73.9)(421,74.6)(423,74.0)(425,74.9)(427,74.2)(429,75.1)(431,74.4)(433,74.9)(435,74.0)(437,74.7)(439,73.8)(441,74.6)(443,74.1)(445,74.8)(447,74.2)(449,75.0)(451,74.3)(453,74.9)(455,73.9)(457,74.8)(459,74.3)(461,75.0)(463,74.4)(465,75.3)(467,74.5)(469,75.0)(471,74.6)(473,75.2)(475,76.2)(477,74.8)(479,75.3)(481,74.2)(483,74.9)(485,73.9)(487,74.6)(489,74.0)(491,74.9)(493,74.2)(495,75.3)(497,74.5)(499,75.4)(501,74.3)(503,75.0)(505,73.9)(507,74.6)(509,73.8)(511,74.4)(513,74.0)(515,74.7)(517,73.9)(519,74.5)(521,74.2)(523,74.9)(525,74.0)(527,74.6)(529,73.8)(531,74.3)(533,73.9)(535,74.5)(537,74.1)(539,74.8)(541,74.2)(543,74.9)(545,74.3)(547,75.0)(549,74.4)(551,74.9)(553,74.5)(555,75.2)(557,75.7)(559,74.8)(561,75.3)(563,74.4)(565,74.9)(567,74.0)(569,74.5)(571,73.8)(573,74.2)(575,73.6)(577,74.0)(579,73.5)(581,73.9)(583,73.4)(585,73.8)(587,73.3)(589,73.7)(591,73.2)(593,73.6)(595,73.4)(597,73.8)(599,73.3)(601,73.7)(603,73.4)(605,73.9)(607,74.4)(609,74.8)(611,73.9)(613,74.2)(616,74.0)};
\addlegendentry{PBO -25}
\addplot[mplpurple] coordinates {(8,71.65)(12,71.72)(16,71.63)(20,71.76)(24,71.66)(28,71.71)(32,71.62)(36,71.74)(40,71.68)(44,71.73)(48,71.65)(52,71.70)(56,71.62)(60,71.75)(64,71.66)(68,71.72)(72,71.55)(76,71.70)(80,71.64)(84,71.74)(88,71.67)(92,71.71)(96,71.60)(100,71.73)(104,71.66)(108,71.71)(112,71.63)(116,71.76)(120,71.65)(124,71.70)(128,71.58)(132,71.72)(136,71.67)(140,71.74)(144,71.62)(148,71.70)(152,71.66)(156,71.73)(160,71.60)(164,71.70)(168,71.65)(172,71.74)(176,71.55)(180,71.70)(184,71.64)(188,71.72)(192,71.67)(196,71.75)(200,71.62)(204,71.71)(208,71.66)(212,71.74)(216,71.63)(220,71.70)(224,71.65)(228,71.73)(232,71.60)(236,71.72)(240,71.66)(244,71.71)(248,71.62)(252,71.75)(256,71.64)(260,71.72)(264,71.67)(268,71.73)(272,71.61)(276,71.70)(280,71.66)(284,71.74)(288,71.63)(292,71.71)(296,71.65)(300,71.73)(304,71.60)(308,71.72)(312,71.67)(316,71.70)(320,71.64)(324,71.75)(328,71.62)(332,71.71)(336,71.66)(340,71.74)(344,71.57)(348,71.70)(352,71.66)(356,71.73)(360,71.63)(364,71.71)(368,71.65)(372,71.74)(376,71.62)(380,71.72)(384,71.66)(388,71.70)(392,71.63)(396,71.75)(400,71.65)(404,71.72)(408,71.60)(412,71.71)(416,71.66)(420,71.74)(424,71.64)(428,71.70)(432,71.62)(436,71.73)(440,71.67)(444,71.71)(448,71.58)(452,71.72)(456,71.66)(460,71.74)(464,71.62)(468,71.70)(472,71.66)(476,71.73)(480,71.60)(484,71.71)(488,71.65)(492,71.72)(496,71.63)(500,71.70)(504,71.66)(508,71.74)(512,71.61)(516,71.70)(520,71.64)(524,71.72)(528,71.58)(532,71.70)(536,71.65)(540,71.73)(544,71.60)(548,71.71)(552,71.66)(556,71.72)(560,71.62)(564,71.68)(568,71.55)(572,71.70)(576,71.60)(580,71.68)(584,71.56)(588,71.69)(592,71.58)(596,71.66)(600,71.57)(604,71.67)(608,71.60)(612,71.70)};
\addlegendentry{PBO -25 70W limit}
\addplot[mplorange] coordinates {(8,78.5)(9,75.2)(11,77.8)(13,74.8)(15,76.5)(17,75.0)(19,75.5)(21,76.6)(23,74.5)(25,75.6)(27,74.4)(29,76.3)(31,74.6)(33,75.2)(35,74.3)(37,75.0)(39,74.6)(41,75.4)(43,74.3)(45,74.9)(47,74.1)(49,75.3)(51,74.4)(53,75.0)(55,74.2)(57,74.8)(59,73.9)(61,74.7)(63,74.3)(65,75.1)(67,74.2)(69,74.9)(71,74.0)(73,74.8)(75,74.4)(77,75.5)(79,74.3)(81,75.0)(83,74.1)(85,74.7)(87,73.9)(89,74.6)(91,74.2)(93,75.2)(95,74.4)(97,75.0)(99,74.1)(101,74.8)(103,73.7)(105,74.5)(107,74.0)(109,74.9)(111,74.3)(113,75.2)(115,74.4)(117,74.9)(119,73.8)(121,74.6)(123,74.4)(126,75.5)(128,74.3)(130,75.0)(132,74.0)(134,74.7)(136,73.8)(138,74.5)(140,74.1)(142,74.9)(144,74.2)(146,75.1)(148,74.5)(150,75.3)(152,74.2)(154,74.9)(156,73.6)(158,74.4)(160,73.9)(162,74.6)(164,74.1)(166,75.0)(168,74.3)(170,75.4)(172,74.4)(174,75.1)(176,74.0)(178,74.8)(180,74.2)(182,75.0)(184,74.4)(186,75.3)(188,74.6)(190,76.4)(192,74.8)(194,75.5)(196,74.2)(198,75.0)(200,74.3)(202,74.9)(204,73.9)(206,74.6)(208,74.0)(210,74.9)(212,74.5)(215,75.8)(217,74.4)(219,75.1)(221,74.0)(223,74.7)(225,73.8)(227,74.5)(229,74.1)(231,75.0)(233,74.3)(235,75.2)(237,74.4)(239,74.9)(241,73.9)(243,74.6)(245,74.0)(247,74.8)(249,74.2)(251,75.0)(253,74.3)(255,74.9)(257,73.9)(259,74.6)(261,73.8)(263,74.4)(265,74.0)(267,74.7)(269,74.1)(271,74.9)(273,74.3)(275,75.0)(277,74.2)(279,74.6)(281,73.8)(283,74.4)(285,74.0)(287,74.6)(289,73.7)(291,74.3)(293,73.8)(295,74.5)(297,74.0)(299,74.8)(301,74.1)(303,74.7)(305,73.9)(307,74.6)(309,74.1)(311,74.9)(313,74.2)(315,74.7)(317,73.8)(319,74.5)(321,74.0)(323,74.8)(325,73.7)(327,74.4)(329,73.9)(331,74.6)(333,74.2)(335,75.0)(337,74.4)(339,74.9)(341,74.0)(343,74.7)(345,74.2)(347,75.1)(349,74.5)(351,75.4)(353,74.3)(355,74.9)(357,74.0)(359,74.7)(361,73.9)(363,74.6)(365,74.2)(367,75.0)(369,74.4)(371,75.3)(373,74.5)(375,75.8)(377,74.6)(379,75.2)(381,74.1)(383,74.8)(385,74.0)(387,74.9)(389,74.3)(391,75.5)(393,74.6)(395,75.1)(397,74.2)(399,74.9)(401,74.4)(403,75.3)(405,74.5)(407,75.6)(409,74.7)(411,75.8)(414,76.6)(416,74.9)(418,75.6)(420,74.4)(422,75.2)(424,74.3)(426,75.0)(428,74.1)(430,74.8)(432,74.0)(434,74.6)(436,73.9)(438,74.7)(440,74.2)(442,75.1)(444,74.4)(446,75.4)(448,74.5)(450,75.2)(452,74.1)(454,74.8)(456,73.8)(458,74.5)(460,74.0)(462,74.9)(464,74.3)(466,75.0)(468,74.1)(470,74.7)(472,73.8)(474,74.5)(476,74.0)(478,74.9)(480,74.3)(482,75.0)(484,74.2)(486,75.3)(488,74.5)(490,75.1)(492,74.2)(494,75.0)(496,74.4)(498,75.6)(501,76.2)(503,74.8)(505,75.4)(507,74.3)(509,74.9)(511,74.0)(513,74.7)(515,73.9)(517,74.6)(519,74.1)(521,74.8)(523,74.0)(525,74.5)(527,73.8)(529,74.2)(531,73.9)(533,74.4)(535,73.7)(537,74.3)(539,73.9)(541,74.6)(543,74.0)(545,74.8)(547,74.3)(549,75.0)(551,74.4)(553,74.9)(555,74.2)(557,74.7)(559,74.0)(561,74.8)(563,74.4)(566,75.9)(568,74.6)(570,75.0)(572,74.1)(574,74.5)(576,73.8)(578,74.2)(580,73.6)(582,74.0)(584,73.5)(586,73.9)(588,73.4)(590,73.8)(592,73.3)(594,73.7)(596,73.4)(598,73.9)(600,73.5)(602,74.1)(604,73.7)(606,74.4)(608,74.0)(610,74.6)(612,74.3)(614,74.7)(616,74.8)(618,74.5)(620,74.7)(622,74.6)(624,73.7)};
\addlegendentry{PBO -30}
\end{axis}
\end{tikzpicture}
\end{document}
